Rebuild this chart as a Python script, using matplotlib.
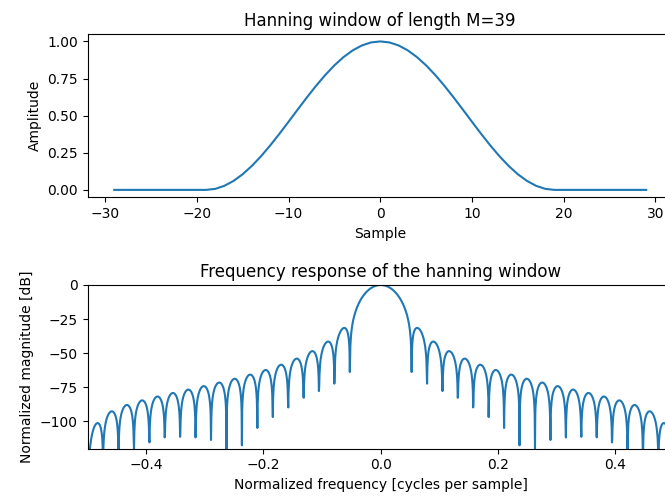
import numpy as np
import matplotlib
matplotlib.use("Agg")
import matplotlib.pyplot as plt

M = 39
PAD = 10          # zeros on each side of the window
NFFT = 2048

# first half of the symmetric Hann window (M=39), peak included
half = [0.00000000, 0.00681935, 0.02709138, 0.06026312, 0.10542975,
        0.16135921, 0.22652592, 0.29915229, 0.37725726, 0.45871033,
        0.54128967, 0.62274274, 0.70084771, 0.77347408, 0.83864079,
        0.89457025, 0.93973688, 0.97290862, 0.99318065, 1.00000000]

window = np.array(half + half[-2::-1])
padded = np.concatenate([np.zeros(PAD), window, np.zeros(PAD)])
samples = np.arange(len(padded)) - len(padded) // 2

A = np.fft.fft(window, NFFT)
mag = np.abs(np.fft.fftshift(A))
freq = np.linspace(-0.5, 0.5, len(A))
response = 20 * np.log10(mag / mag.max())

fig = plt.figure(figsize=(6.65, 4.97), dpi=100)
ax1 = fig.add_axes([0.1318, 0.603, 0.880, 0.3286])
ax2 = fig.add_axes([0.1318, 0.0972, 0.881, 0.3294])

ax1.plot(samples, padded)
ax1.set_title(f"Hanning window of length M={M}")
ax1.set_ylabel("Amplitude")
ax1.set_xlabel("Sample")

ax2.plot(freq, response)
ax2.set_xlim(-0.5, 0.5)
ax2.set_ylim(-120, 0)
ax2.set_title("Frequency response of the hanning window")
ax2.set_ylabel("Normalized magnitude [dB]")
ax2.set_xlabel("Normalized frequency [cycles per sample]")

fig.savefig("out.png", dpi=100)
